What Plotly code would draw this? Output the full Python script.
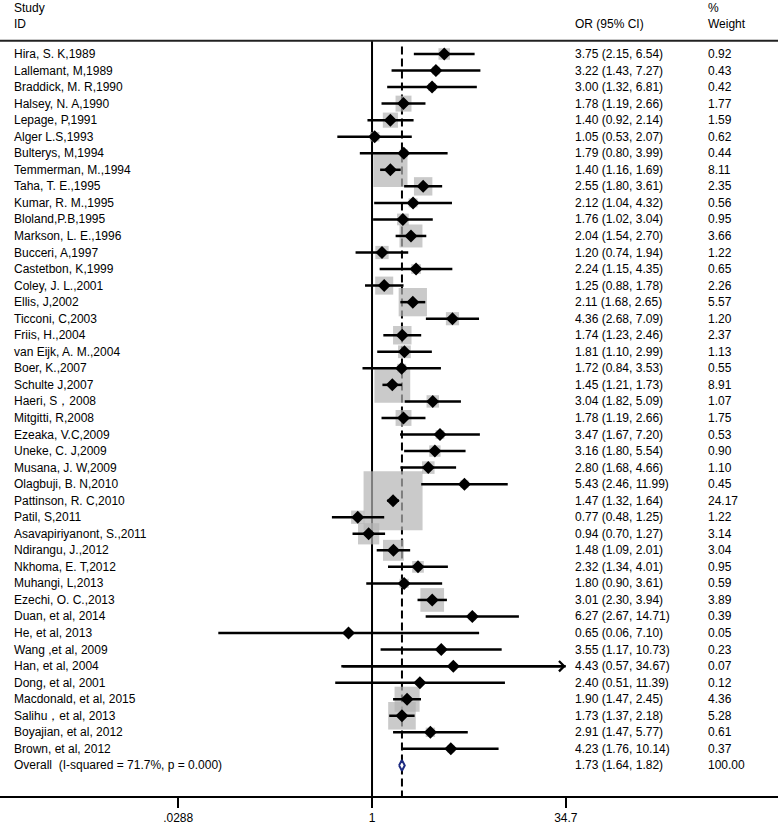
import math

import plotly.graph_objects as go

# Study rows, top to bottom
studies = [
    'Hira, S. K,1989', 'Lallemant, M,1989', 'Braddick, M. R,1990', 'Halsey, N. A,1990',
    'Lepage, P,1991', 'Alger L.S,1993', 'Bulterys, M,1994', 'Temmerman, M.,1994',
    'Taha, T. E.,1995', 'Kumar, R. M.,1995', 'Bloland,P.B,1995', 'Markson, L. E.,1996',
    'Bucceri, A,1997', 'Castetbon, K,1999', 'Coley, J. L.,2001', 'Ellis, J,2002',
    'Ticconi, C,2003', 'Friis, H.,2004', 'van Eijk, A. M.,2004', 'Boer, K.,2007',
    'Schulte J,2007', 'Haeri, S，2008', 'Mitgitti, R,2008', 'Ezeaka, V.C,2009',
    'Uneke, C. J,2009', 'Musana, J. W,2009', 'Olagbuji, B. N,2010', 'Pattinson, R. C,2010',
    'Patil, S,2011', 'Asavapiriyanont, S.,2011', 'Ndirangu, J.,2012', 'Nkhoma, E. T,2012',
    'Muhangi, L,2013', 'Ezechi, O. C.,2013', 'Duan, et al, 2014', 'He, et al, 2013',
    'Wang ,et al, 2009', 'Han, et al, 2004', 'Dong, et al, 2001', 'Macdonald, et al, 2015',
    'Salihu，et al, 2013', 'Boyajian, et al, 2012', 'Brown, et al, 2012',
]
odds_ratio = [3.75, 3.22, 3.00, 1.78, 1.40, 1.05, 1.79, 1.40, 2.55, 2.12, 1.76, 2.04,
              1.20, 2.24, 1.25, 2.11, 4.36, 1.74, 1.81, 1.72, 1.45, 3.04, 1.78, 3.47,
              3.16, 2.80, 5.43, 1.47, 0.77, 0.94, 1.48, 2.32, 1.80, 3.01, 6.27, 0.65,
              3.55, 4.43, 2.40, 1.90, 1.73, 2.91, 4.23]
ci_low = [2.15, 1.43, 1.32, 1.19, 0.92, 0.53, 0.80, 1.16, 1.80, 1.04, 1.02, 1.54,
          0.74, 1.15, 0.88, 1.68, 2.68, 1.23, 1.10, 0.84, 1.21, 1.82, 1.19, 1.67,
          1.80, 1.68, 2.46, 1.32, 0.48, 0.70, 1.09, 1.34, 0.90, 2.30, 2.67, 0.06,
          1.17, 0.57, 0.51, 1.47, 1.37, 1.47, 1.76]
ci_high = [6.54, 7.27, 6.81, 2.66, 2.14, 2.07, 3.99, 1.69, 3.61, 4.32, 3.04, 2.70,
           1.94, 4.35, 1.78, 2.65, 7.09, 2.46, 2.99, 3.53, 1.73, 5.09, 2.66, 7.20,
           5.54, 4.66, 11.99, 1.64, 1.25, 1.27, 2.01, 4.01, 3.61, 3.94, 14.71, 7.10,
           10.73, 34.67, 11.39, 2.45, 2.18, 5.77, 10.14]
weight = [0.92, 0.43, 0.42, 1.77, 1.59, 0.62, 0.44, 8.11, 2.35, 0.56, 0.95, 3.66,
          1.22, 0.65, 2.26, 5.57, 1.20, 2.37, 1.13, 0.55, 8.91, 1.07, 1.75, 0.53,
          0.90, 1.10, 0.45, 24.17, 1.22, 3.14, 3.04, 0.95, 0.59, 3.89, 0.39, 0.05,
          0.23, 0.07, 0.12, 4.36, 5.28, 0.61, 0.37]

overall_label = 'Overall  (I-squared = 71.7%, p = 0.000)'
overall_or = 1.73
overall_low = 1.64
overall_high = 1.82
overall_weight = 100.00

tick_vals = [0.0288, 1, 34.7]
tick_text = ['.0288', '1', '34.7']

FONT = 'Liberation Sans, Arial, sans-serif'
n = len(studies)
rows = list(range(n))
overall_row = n
lg = math.log10

fig = go.Figure()

# weight boxes (area ~ weight)
fig.add_trace(go.Scatter(
    x=[lg(v) for v in odds_ratio], y=rows, mode='markers',
    marker=dict(symbol='square', size=[12.0 * math.sqrt(w) for w in weight],
                color='#b4b4b4', line_width=0),
    hoverinfo='skip'))

# confidence intervals
ci_x, ci_y = [], []
for r, lo, hi in zip(rows, ci_low, ci_high):
    ci_x += [lg(lo), lg(hi), None]
    ci_y += [r, r, None]
fig.add_trace(go.Scatter(x=ci_x, y=ci_y, mode='lines',
                         line=dict(color='black', width=2.5), hoverinfo='skip'))

# point estimates
fig.add_trace(go.Scatter(
    x=[lg(v) for v in odds_ratio], y=rows, mode='markers',
    marker=dict(symbol='diamond', size=10, color='black', line_width=0),
    hoverinfo='skip'))

# pooled estimate diamond
h = 0.32
fig.add_trace(go.Scatter(
    x=[lg(overall_low), lg(overall_or), lg(overall_high), lg(overall_or), lg(overall_low)],
    y=[overall_row, overall_row - h, overall_row, overall_row + h, overall_row],
    mode='lines', fill='toself', fillcolor='white',
    line=dict(color='#1c2a80', width=2), hoverinfo='skip'))

# arrows where the CI runs off the plotted range
for r, lo, hi in zip(rows, ci_low, ci_high):
    if hi >= 0.99 * tick_vals[-1]:
        fig.add_annotation(x=lg(hi), y=r, ax=lg(lo), ay=r, axref='x', ayref='y',
                           xref='x', yref='y', text='', showarrow=True,
                           arrowhead=4, arrowsize=0.8, arrowwidth=2.5, arrowcolor='black')

# reference lines
top_y = -0.8
axis_y = 44.85
fig.add_shape(type='line', xref='paper', x0=0, x1=1, y0=top_y, y1=top_y,
              line=dict(color='#222222', width=2))
fig.add_shape(type='line', x0=0, x1=0, y0=top_y, y1=axis_y, layer='below',
              line=dict(color='black', width=2))
fig.add_shape(type='line', x0=lg(overall_or), x1=lg(overall_or), y0=-0.45, y1=axis_y,
              layer='below', line=dict(color='black', width=2, dash='8px,4px'))

# text columns
col_name, col_or, col_w = 14 / 778, 575 / 778, 708 / 778


def txt(x, y, s):
    fig.add_annotation(x=x, y=y, xref='paper', yref='y', text=s, showarrow=False,
                       xanchor='left', yanchor='middle', borderpad=0, borderwidth=0,
                       font=dict(family=FONT, size=12, color='black'))


txt(col_name, -2.78, 'Study')
txt(col_name, -1.81, 'ID')
txt(col_or, -1.81, 'OR (95% CI)')
txt(col_w, -2.78, '%')
txt(col_w, -1.81, 'Weight')

for r, s, v, lo, hi, w in zip(rows, studies, odds_ratio, ci_low, ci_high, weight):
    txt(col_name, r, s)
    txt(col_or, r, f'{v:.2f} ({lo:.2f}, {hi:.2f})')
    txt(col_w, r, f'{w:.2f}')

txt(col_name, overall_row, overall_label)
txt(col_or, overall_row, f'{overall_or:.2f} ({overall_low:.2f}, {overall_high:.2f})')
txt(col_w, overall_row, f'{overall_weight:.2f}')

fig.update_xaxes(range=[-2.957, 3.227], showgrid=False, zeroline=False,
                 showline=True, linecolor='black', linewidth=2,
                 ticks='outside', ticklen=10, tickwidth=2, tickcolor='black',
                 tickvals=[lg(t) for t in tick_vals], ticktext=tick_text,
                 ticklabelstandoff=0,
                 tickfont=dict(family=FONT, size=12, color='black'))
fig.update_yaxes(range=[axis_y, -54 / 16.55], domain=[32 / 828, 1], visible=False,
                 showgrid=False, zeroline=False)
fig.update_layout(width=778, height=828, template='none', showlegend=False,
                  margin=dict(l=0, r=0, t=0, b=0),
                  plot_bgcolor='white', paper_bgcolor='white',
                  font=dict(family=FONT, size=12, color='black'))
# the page's default body margin would shift the 778x828 figure off the window
fig.write_html('out.html', config={'displayModeBar': False},
               post_script="document.body.style.margin = '0';")
